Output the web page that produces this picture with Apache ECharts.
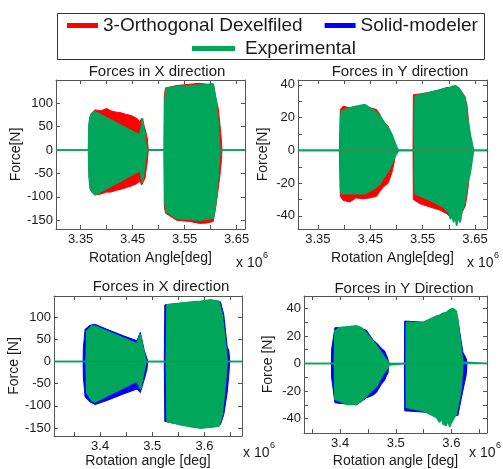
<!DOCTYPE html>
<html><head><meta charset="utf-8">
<script src="https://cdn.jsdelivr.net/npm/echarts@6/dist/echarts.min.js"></script>
<style>html,body{margin:0;padding:0;background:#fff}#c{width:503px;height:469px}</style>
</head><body><div id="c"></div>
<script>
const nameRed = '3-Orthogonal Dexelfiled';
const nameBlue = 'Solid-modeler';
const nameGreen = 'Experimental';
const cRed = '#ff0000', cBlue = '#0000ff', cGreen = '#00a65a';

// ---- Top-left: Forces in X direction (Dexel vs Experimental), x in 1e6 deg
const tlRedX  = [3.365, 3.366, 3.3698, 3.3775, 3.389, 3.400, 3.408, 3.419, 3.427, 3.4385, 3.447, 3.4577, 3.464, 3.4673, 3.4737, 3.478, 3.480, 3.5102, 3.5108, 3.513, 3.534, 3.560, 3.579, 3.5929, 3.605, 3.610, 3.6146, 3.6178, 3.6207, 3.6217];
const tlRedUp = [0, 55, 78, 86, 84, 89, 84, 81, 80, 76, 74, 68, 61, 68, 46, 25, 0, 0, 115, 133, 138, 141, 143, 141, 142, 110, 89, 54, 20, 0];
const tlRedLo = [0, -55, -88, -96, -94, -90, -90, -86, -84, -80, -77, -72, -66, -75, -60, -25, 0, 0, -120, -135, -150, -153, -157, -156, -153, -120, -82, -54, -20, 0];
const tlGrnX  = [3.3025, 3.365, 3.366, 3.368, 3.3736, 3.3775, 3.4208, 3.464, 3.469, 3.477, 3.511, 3.5121, 3.5144, 3.534, 3.579, 3.605, 3.611, 3.6146, 3.6178, 3.666];
const tlGrnUp = [0, 0, 55, 71, 80, 82, 57, 32, 68, 0, 0, 110, 132, 136, 139, 140, 103, 54, 0, 0];
const tlGrnLo = [0, 0, -55, -82, -92, -96, -70, -44, -70, 0, 0, -115, -132, -146, -150, -146, -103, -54, 0, 0];

// ---- Top-right: Forces in Y direction
const trRedX  = [3.391, 3.3919, 3.3928, 3.398, 3.411, 3.4225, 3.4365, 3.4494, 3.462, 3.4685, 3.476, 3.484, 3.491, 3.4953, 3.499, 3.5317, 3.5323, 3.5451, 3.5643, 3.5835, 3.5963, 3.6026, 3.6122, 3.6218, 3.6314, 3.6346, 3.6377, 3.6409, 3.643];
const trRedUp = [0, 12, 25, 27, 26, 27, 26, 26, 25, 22, 17, 15, 9, 5, 0, 0, 34, 34.5, 35.5, 37, 38.5, 38, 37, 35, 31, 28, 18, 8, 0];
const trRedLo = [0, -12, -28, -30.5, -31.5, -29, -29.5, -29, -28, -25, -22, -20, -14, -8, 0, 0, -30, -32.6, -34.6, -36.5, -38.7, -40.7, -42.8, -40, -34, -28, -20, -8, 0];
const trGrnX  = [3.312, 3.3925, 3.3935, 3.395, 3.411, 3.4398, 3.459, 3.4685, 3.475, 3.4877, 3.491, 3.5005, 3.5045, 3.5346, 3.5356, 3.5643, 3.5898, 3.600, 3.603, 3.6059, 3.609, 3.6122, 3.615, 3.618, 3.6218, 3.625, 3.6314, 3.6346, 3.6409, 3.6473, 3.673];
const trGrnUp = [0, 0, 20, 24, 26, 28, 24, 21, 18, 12, 10, 2, 0, 0, 33, 35.5, 37.5, 38, 38.5, 39, 39.5, 39.5, 39, 38.5, 37, 36, 32.4, 22, 10, 0, 0];
const trGrnLo = [0, 0, -24, -26.5, -26.5, -26.5, -23, -20.5, -17, -11, -8, -2, 0, 0, -26.5, -30.5, -34.6, -38, -42, -39, -44, -40, -46, -41, -44, -38, -30.5, -22, -14, 0, 0];

// ---- Bottom-left: Forces in X direction (Solid-modeler vs Experimental)
const blBluX  = [3.3673, 3.3678, 3.3711, 3.3807, 3.3904, 3.4128, 3.4448, 3.4706, 3.477, 3.4846, 3.4898, 3.4913, 3.523, 3.524, 3.5538, 3.5923, 3.6115, 3.6307, 3.634, 3.637, 3.6436, 3.6467, 3.6486];
const blBluUp = [0, 30, 73, 82, 84, 73, 58, 47, 66, 25, 7, 0, 0, 128, 131.6, 135, 139, 135, 135, 106, 33, 25, 0];
const blBluLo = [0, -35, -80, -91, -97, -88, -73, -62, -70, -40, -18, 0, 0, -135, -142, -150, -148, -142, -142, -120, -70, -30, 0];
const blGrnX  = [3.3115, 3.373, 3.3744, 3.384, 3.3904, 3.4706, 3.477, 3.4832, 3.4884, 3.5269, 3.5282, 3.5538, 3.5794, 3.5923, 3.6115, 3.6275, 3.6307, 3.634, 3.6403, 3.6436, 3.672];
const blGrnUp = [0, 0, 69, 80, 80, 40, 62, 25, 0, 0, 128, 131.6, 135, 136, 139, 136, 135, 106, 40, 0, 0];
const blGrnLo = [0, 0, -70, -88, -91, -44, -62, -26, 0, 0, -135, -142.5, -148, -150, -148, -146, -143, -120, -47, 0, 0];

// ---- Bottom-right: Forces in Y Direction
const brBluX  = [3.3843, 3.3846, 3.3906, 3.3995, 3.4294, 3.4474, 3.4592, 3.4653, 3.4743, 3.4802, 3.4832, 3.4861, 3.4873, 3.5155, 3.516, 3.5608, 3.5967, 3.6115, 3.6205, 3.6266, 3.628];
const brBluUp = [0, 10, 26, 26, 27, 24, 17, 15, 11, 9, 8, 3, 0, 0, 30.8, 29.7, 30, 32, 8.3, 3.6, 0];
const brBluLo = [0, -10, -28.5, -29, -30, -25, -23, -21, -15, -12, -9, -7, 0, 0, -34.4, -35.6, -36.8, -38, -20, -8.3, 0];
const brGrnX  = [3.335, 3.3897, 3.3906, 3.3995, 3.4115, 3.4294, 3.4384, 3.4474, 3.4533, 3.4653, 3.4771, 3.4802, 3.4891, 3.4909, 3.5187, 3.5191, 3.5488, 3.5728, 3.5787, 3.582, 3.585, 3.5907, 3.594, 3.5967, 3.600, 3.6026, 3.6087, 3.6115, 3.6146, 3.6176, 3.6205, 3.6217, 3.664];
const brGrnUp = [0, 0, 23.7, 26, 26.5, 27.3, 26, 22, 19, 13, 6, 4, 0, 0, 0, 29.7, 29.7, 34.4, 35, 36, 36.5, 37, 38, 39, 39.5, 40, 38, 32, 20, 10, 1, 0, 0];
const brGrnLo = [0, 0, -26, -27.3, -29.7, -29.7, -27, -23.7, -21, -16.6, -8, -7, -1, 0, 0, -32, -34.4, -39, -42.7, -40, -44, -45, -41, -46, -43, -44, -36.8, -36.8, -25, -17.8, 0, 0, 0];

// ---- tick values / labels
const topXTicks  = [3.35, 3.40, 3.45, 3.50, 3.55, 3.60, 3.65];
const topXLabels = [3.35, 3.45, 3.55, 3.65];
const botXTicks  = [3.35, 3.40, 3.45, 3.50, 3.55, 3.60, 3.65];
const botXLabels = [3.4, 3.5, 3.6];
const fxYTicks   = [-150, -100, -50, 0, 50, 100];
const fxYLabels  = [-150, -100, -50, 0, 50, 100];
const fyYTicks   = [-40, -30, -20, -10, 0, 10, 20, 30, 40];
const fyYLabels  = [-40, -20, 0, 20, 40];

const panels = [
  { grid: {left: 56, top: 80, width: 189, height: 149}, xr: [3.3025, 3.666], yr: [-169, 150],
    xt: topXTicks, xl: topXLabels, xd: 2, yt: fxYTicks, yl: fxYLabels,
    xname: 'Rotation Angle[deg]', yname: 'Force[N]', xgap: 22, ygap: 32,
    title: 'Forces in X direction', tx: 157, ty: 64,
    sets: [[nameRed, cRed, tlRedX, tlRedUp, tlRedLo], [nameGreen, cGreen, tlGrnX, tlGrnUp, tlGrnLo]] },
  { grid: {left: 298, top: 80, width: 189, height: 149}, xr: [3.312, 3.673], yr: [-48, 43],
    xt: topXTicks, xl: topXLabels, xd: 2, yt: fyYTicks, yl: fyYLabels,
    xname: 'Rotation Angle[deg]', yname: 'Force[N]', xgap: 22, ygap: 28,
    title: 'Forces in Y direction', tx: 400, ty: 64,
    sets: [[nameRed, cRed, trRedX, trRedUp, trRedLo], [nameGreen, cGreen, trGrnX, trGrnUp, trGrnLo]] },
  { grid: {left: 54, top: 296, width: 188, height: 144}, xr: [3.3115, 3.672], yr: [-168, 148],
    xt: botXTicks, xl: botXLabels, xd: 1, yt: fxYTicks, yl: fxYLabels,
    xname: 'Rotation angle [deg]', yname: 'Force [N]', xgap: 18, ygap: 31,
    title: 'Forces in X direction', tx: 161, ty: 279,
    sets: [[nameBlue, cBlue, blBluX, blBluUp, blBluLo], [nameGreen, cGreen, blGrnX, blGrnUp, blGrnLo]] },
  { grid: {left: 304, top: 296, width: 183, height: 140}, xr: [3.335, 3.664], yr: [-50.5, 49],
    xt: botXTicks, xl: botXLabels, xd: 1, yt: fyYTicks, yl: fyYLabels,
    xname: 'Rotation angle [deg]', yname: 'Force [N]', xgap: 21, ygap: 29,
    title: 'Forces in Y Direction', tx: 404, ty: 281,
    sets: [[nameBlue, cBlue, brBluX, brBluUp, brBluLo], [nameGreen, cGreen, brGrnX, brGrnUp, brGrnLo]] }
];

const axCol = '#555', txtCol = '#1a1a1a', FONT = 'Liberation Sans, Arial, sans-serif';
const grids = [], xAxes = [], yAxes = [], series = [], titles = [];
panels.forEach((p, i) => {
  grids.push(Object.assign({containLabel: false, show: false}, p.grid));
  const lineCfg = {show: true, onZero: false, lineStyle: {color: axCol, width: 1}};
  xAxes.push({type: 'value', gridIndex: i, min: p.xr[0], max: p.xr[1], position: 'bottom',
    axisLine: lineCfg, splitLine: {show: false},
    axisTick: {show: true, inside: true, length: 4, customValues: p.xt, lineStyle: {color: axCol}},
    axisLabel: {customValues: p.xl, margin: 4, fontSize: 13, color: txtCol, fontFamily: FONT,
      formatter: v => Number(v).toFixed(p.xd)},
    name: p.xname, nameLocation: 'middle', nameGap: p.xgap,
    nameTextStyle: {fontSize: 14, color: txtCol, fontFamily: FONT, verticalAlign: 'top'}});
  xAxes.push({type: 'value', gridIndex: i, min: p.xr[0], max: p.xr[1], position: 'top',
    axisLine: lineCfg, splitLine: {show: false}, axisLabel: {show: false},
    axisTick: {show: true, inside: true, length: 4, customValues: p.xt, lineStyle: {color: axCol}}});
  yAxes.push({type: 'value', gridIndex: i, min: p.yr[0], max: p.yr[1], position: 'left',
    axisLine: lineCfg, splitLine: {show: false},
    axisTick: {show: true, inside: true, length: 4, customValues: p.yt, lineStyle: {color: axCol}},
    axisLabel: {customValues: p.yl, margin: 3, fontSize: 13, color: txtCol, fontFamily: FONT},
    name: p.yname, nameLocation: 'middle', nameGap: p.ygap, nameRotate: 90,
    nameTextStyle: {fontSize: 14, color: txtCol, fontFamily: FONT}});
  yAxes.push({type: 'value', gridIndex: i, min: p.yr[0], max: p.yr[1], position: 'right',
    axisLine: lineCfg, splitLine: {show: false}, axisLabel: {show: false},
    axisTick: {show: true, inside: true, length: 4, customValues: p.yt, lineStyle: {color: axCol}}});
  titles.push({text: p.title, left: p.tx, top: p.ty, textAlign: 'center', padding: 0,
    textStyle: {fontSize: 15, fontWeight: 'normal', color: txtCol, fontFamily: FONT}});
  p.sets.forEach(([nm, col, xs, up, lo], k) => {
    [up, lo].forEach(arr => {
      series.push({type: 'line', name: nm, xAxisIndex: 2 * i, yAxisIndex: 2 * i,
        data: xs.map((x, j) => [x, arr[j]]), showSymbol: false, symbol: 'none',
        lineStyle: {color: col, width: col === cGreen ? 1.6 : 1},
        itemStyle: {color: col}, areaStyle: {color: col, opacity: 1, origin: 'auto'},
        z: 2 + k, silent: true, animation: false});
    });
  });
});

const chart = echarts.init(document.getElementById('c'), null, {renderer: 'canvas'});
chart.setOption({
  backgroundColor: '#fff',
  animation: false,
  title: titles,
  grid: grids, xAxis: xAxes, yAxis: yAxes, series: series,
  legend: [
    {data: [nameRed, nameBlue], left: 67, top: 16, itemWidth: 31, itemHeight: 5, itemGap: 22,
     icon: 'rect', selectedMode: false, padding: 0,
     textStyle: {fontSize: 19, color: txtCol, fontFamily: FONT}},
    {data: [nameGreen], left: 192, top: 39, itemWidth: 43, itemHeight: 5, itemGap: 10,
     icon: 'rect', selectedMode: false, padding: 0,
     textStyle: {fontSize: 19, color: txtCol, fontFamily: FONT, padding: [0, 0, 0, 5]}}
  ],
  graphic: [
    {type: 'rect', shape: {x: 57.5, y: 13.5, width: 427, height: 46}, style: {fill: 'none', stroke: '#333', lineWidth: 1}, silent: true},
    {type: 'text', x: 236, y: 256, style: {text: 'x 10', fontSize: 14, fill: txtCol, fontFamily: FONT}},
    {type: 'text', x: 263, y: 251, style: {text: '6', fontSize: 9, fill: txtCol, fontFamily: FONT}},
    {type: 'text', x: 467, y: 256, style: {text: 'x 10', fontSize: 14, fill: txtCol, fontFamily: FONT}},
    {type: 'text', x: 494, y: 251, style: {text: '6', fontSize: 9, fill: txtCol, fontFamily: FONT}},
    {type: 'text', x: 243, y: 446, style: {text: 'x 10', fontSize: 14, fill: txtCol, fontFamily: FONT}},
    {type: 'text', x: 270, y: 441, style: {text: '6', fontSize: 9, fill: txtCol, fontFamily: FONT}},
    {type: 'text', x: 469, y: 446, style: {text: 'x 10', fontSize: 14, fill: txtCol, fontFamily: FONT}},
    {type: 'text', x: 496, y: 441, style: {text: '6', fontSize: 9, fill: txtCol, fontFamily: FONT}}
  ]
});
</script>
</body></html>
